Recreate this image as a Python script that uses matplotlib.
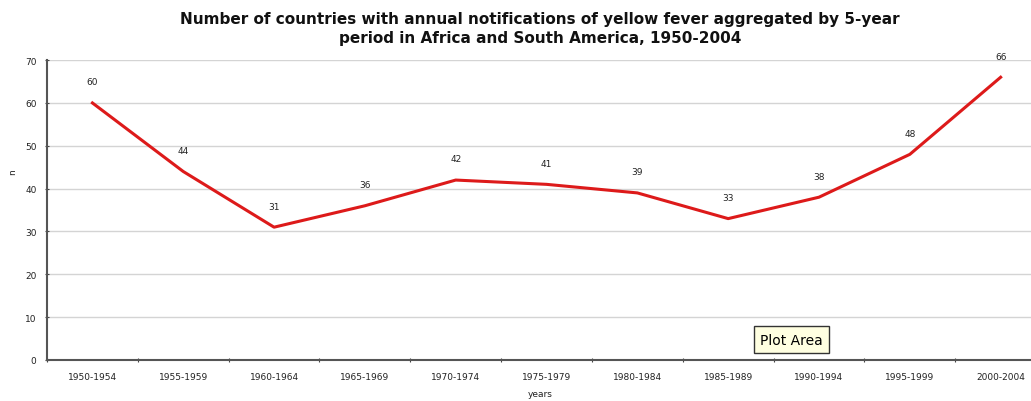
import matplotlib as m
m.use("Agg")
import matplotlib.pyplot as plt
import numpy as np

periods = ["1950-1954", "1955-1959", "1960-1964", "1965-1969", "1970-1974",
           "1975-1979", "1980-1984", "1985-1989", "1990-1994", "1995-1999",
           "2000-2004"]
countries = [60, 44, 31, 36, 42, 41, 39, 33, 38, 48, 66]
yTicks = [0, 10, 20, 30, 40, 50, 60, 70]

fig = plt.figure(figsize=(10.31, 4.02), dpi=100)
# axes runs a bit past the right edge of the figure
ax = fig.add_axes([0.0456, 0.102, 0.969, 0.746])

x = np.arange(len(periods))
ax.plot(x, countries, color="#dd1a1a", linewidth=2.2, solid_joinstyle="round")
for xi, v in zip(x, countries):
  ax.annotate(str(v), (xi, v), xytext=(0, 12), textcoords="offset points",
              ha="center", va="bottom", fontsize=6.5, color="#222222")

ax.set_xlim(-0.5, len(periods) - 0.5)
ax.set_ylim(0, 70)
ax.set_yticks(yTicks)
ax.yaxis.grid(True, color="#d4d4d4", linewidth=1.0)
ax.set_axisbelow(True)

# category labels sit between boundary tick marks
ax.set_xticks(np.arange(-0.5, len(periods)), minor=False)
ax.set_xticklabels([])
ax.set_xticks(x, minor=True)
ax.set_xticklabels(periods, minor=True, fontsize=6.5, color="#222222")
ax.tick_params(axis="x", which="minor", length=0, pad=9)
ax.tick_params(axis="x", which="major", length=3, direction="inout", color="#444444")
ax.tick_params(axis="y", length=3, direction="inout", color="#444444",
               labelsize=6.5, labelcolor="#222222", pad=6)

for s in ["top", "right"]:
  ax.spines[s].set_visible(False)
for s in ["left", "bottom"]:
  ax.spines[s].set_color("#555555")
  ax.spines[s].set_linewidth(1.5)

ax.set_ylabel("n", fontsize=6.5, color="#222222", labelpad=14)
ax.yaxis.set_label_coords(-0.03, 0.63)
fig.text(0.524, 0.008, "years", ha="center", va="bottom", fontsize=6.5, color="#222222")

fig.suptitle("Number of countries with annual notifications of yellow fever aggregated by 5-year\n"
             "period in Africa and South America, 1950-2004",
             x=0.524, y=0.97, fontsize=11, fontweight="bold", linespacing=1.3,
             color="#111111")

fig.text(0.737, 0.135, "Plot Area", fontsize=10, ha="left", va="bottom",
         bbox=dict(boxstyle="square,pad=0.45", facecolor="#ffffe1", edgecolor="#333333", linewidth=1))

plt.savefig("out.png")
